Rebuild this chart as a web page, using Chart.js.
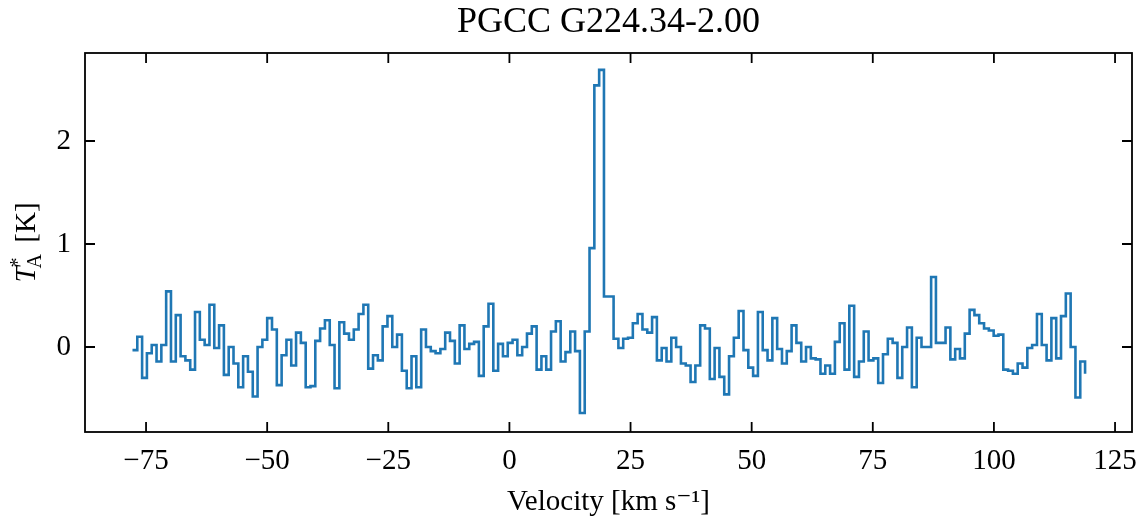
<!DOCTYPE html>
<html>
<head>
<meta charset="utf-8">
<script src="https://cdn.jsdelivr.net/npm/chart.js@4.4.1/dist/chart.umd.min.js"></script>
<style>
  html, body { margin: 0; padding: 0; background: #fff; }
</style>
</head>
<body>
<canvas id="spectrum" width="1138" height="523"></canvas>
<script>
const chartTitle = 'PGCC G224.34-2.00';
const xLabel = 'Velocity [km s\u207B\u00B9]';
const xTickValues = [-75, -50, -25, 0, 25, 50, 75, 100, 125];
const yTickValues = [0, 1, 2];

// channel grid (km/s): left edge of first channel and channel width
const vStart = -77.8;
const chanWidth = 0.993;

// antenna temperature per channel (K)
const tA = [
  -0.03, 0.10, -0.30, -0.06, 0.02, -0.14, 0.02, 0.54, -0.14, 0.31,
  -0.09, -0.13, -0.22, 0.34, 0.07, 0.02, 0.41, -0.01, 0.21, -0.27,
  0.00, -0.16, -0.39, -0.09, -0.24, -0.48, 0.00, 0.07, 0.28, 0.17,
  -0.37, -0.08, 0.07, -0.18, 0.14, 0.04, -0.39, -0.38, 0.06, 0.18,
  0.26, 0.02, -0.40, 0.24, 0.13, 0.07, 0.17, 0.32, 0.41, -0.21,
  -0.08, -0.13, 0.20, 0.30, 0.00, 0.12, -0.23, -0.40, -0.09, -0.39,
  0.17, 0.00, -0.04, -0.06, -0.02, 0.14, 0.06, -0.16, 0.21, -0.02,
  0.03, 0.05, -0.28, 0.20, 0.42, -0.23, 0.03, -0.09, 0.04, 0.07,
  -0.08, 0.00, 0.13, 0.20, -0.22, -0.09, -0.22, 0.15, 0.25, -0.14,
  -0.05, 0.15, -0.04, -0.64, 0.15, 0.96, 2.54, 2.69, 0.49, 0.49,
  0.08, -0.01, 0.08, 0.09, 0.23, 0.32, 0.17, 0.14, 0.29, -0.13,
  -0.01, -0.14, 0.09, 0.00, -0.16, -0.18, -0.34, -0.18, 0.21, 0.18,
  -0.31, -0.01, -0.29, -0.46, -0.09, 0.09, 0.35, -0.03, -0.20, -0.28,
  0.34, -0.03, -0.13, 0.28, -0.02, -0.16, -0.04, 0.21, 0.04, -0.14,
  0.00, -0.11, -0.12, -0.26, -0.18, -0.26, 0.05, 0.23, -0.22, 0.40,
  -0.29, -0.14, 0.15, -0.13, -0.11, -0.35, -0.07, 0.08, 0.04, -0.30,
  0.00, 0.19, -0.39, 0.09, 0.00, 0.00, 0.68, 0.04, 0.04, 0.19,
  -0.12, -0.02, -0.11, 0.13, 0.36, 0.31, 0.23, 0.18, 0.16, 0.11,
  0.12, -0.22, -0.23, -0.26, -0.16, -0.20, -0.01, 0.02, 0.32, 0.02,
  -0.13, 0.28, -0.11, 0.30, 0.52, 0.00, -0.49, -0.14, -0.26
];
const velocity = tA.map((_, i) => vStart + i * chanWidth);

const serif = '"Liberation Serif", "DejaVu Serif", serif';
const minusFmt = v => (v < 0 ? '\u2212' + Math.abs(v) : String(v));

// frame, inward ticks on all four sides, title and axis labels
const decorations = {
  id: 'decorations',
  afterDatasetsDraw(chart) {
    const { ctx, chartArea: a, scales: { x, y } } = chart;
    const len = 10;
    ctx.save();
    ctx.strokeStyle = '#000';
    ctx.lineWidth = 1.8;
    ctx.strokeRect(a.left, a.top, a.right - a.left, a.bottom - a.top);
    ctx.beginPath();
    xTickValues.forEach(v => {
      const px = x.getPixelForValue(v);
      ctx.moveTo(px, a.bottom); ctx.lineTo(px, a.bottom - len);
      ctx.moveTo(px, a.top); ctx.lineTo(px, a.top + len);
    });
    yTickValues.forEach(v => {
      const py = y.getPixelForValue(v);
      ctx.moveTo(a.left, py); ctx.lineTo(a.left + len, py);
      ctx.moveTo(a.right, py); ctx.lineTo(a.right - len, py);
    });
    ctx.stroke();

    const cx = (a.left + a.right) / 2;
    ctx.fillStyle = '#000';
    ctx.textAlign = 'center';
    ctx.textBaseline = 'alphabetic';
    ctx.font = '36px ' + serif;
    ctx.fillText(chartTitle, cx, 32);
    ctx.font = '29px ' + serif;
    ctx.fillText(xLabel, cx, 510);

    // y label: T*_A [K], rotated
    ctx.translate(35, (a.top + a.bottom) / 2);
    ctx.rotate(-Math.PI / 2);
    ctx.textAlign = 'left';
    const bigIt = 'italic 29px ' + serif, big = '29px ' + serif, small = '20px ' + serif;
    ctx.font = bigIt; const wT = ctx.measureText('T').width;
    ctx.font = small; const wA = ctx.measureText('A').width;
    ctx.font = big; const wK = ctx.measureText(' [K]').width;
    let px = -(wT + wA + 2 + wK) / 2;
    ctx.font = bigIt; ctx.fillText('T', px, 0); px += wT;
    ctx.font = small; ctx.fillText('*', px - 1, -11);
    ctx.fillText('A', px - 2, 6); px += wA;
    ctx.font = big; ctx.fillText(' [K]', px + 2, 0);
    ctx.restore();
  }
};

new Chart(document.getElementById('spectrum'), {
  type: 'line',
  data: {
    datasets: [{
      data: velocity.map((v, i) => ({ x: v, y: tA[i] })),
      borderColor: '#1f77b4',
      borderWidth: 2.6,
      stepped: true,
      pointRadius: 0,
      fill: false
    }]
  },
  options: {
    responsive: false,
    animation: false,
    devicePixelRatio: 1,
    layout: { padding: { top: 53, right: 6, left: 0, bottom: 0 } },
    plugins: { legend: { display: false }, tooltip: { enabled: false } },
    scales: {
      x: {
        type: 'linear',
        min: -87.6,
        max: 128.5,
        afterFit: s => { s.height = 91; s.paddingLeft = 0; s.paddingRight = 0; },
        afterBuildTicks: s => { s.ticks = xTickValues.map(v => ({ value: v })); },
        grid: { display: false, drawTicks: false },
        border: { display: false },
        ticks: {
          autoSkip: false, maxRotation: 0, padding: 12,
          color: '#000', font: { family: serif, size: 29 },
          callback: minusFmt
        }
      },
      y: {
        type: 'linear',
        min: -0.825,
        max: 2.854,
        afterFit: s => { s.width = 85; s.paddingTop = 0; s.paddingBottom = 0; },
        afterBuildTicks: s => { s.ticks = yTickValues.map(v => ({ value: v })); },
        grid: { display: false, drawTicks: false },
        border: { display: false },
        ticks: {
          autoSkip: false, padding: 14,
          color: '#000', font: { family: serif, size: 29 },
          callback: minusFmt
        }
      }
    }
  },
  plugins: [decorations]
});
</script>
</body>
</html>
